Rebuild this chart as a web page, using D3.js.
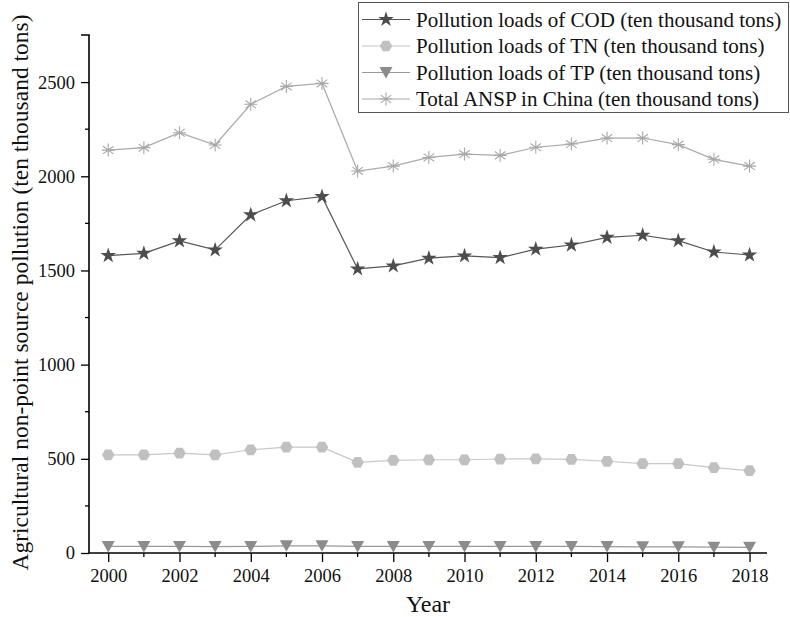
<!DOCTYPE html>
<html>
<head>
<meta charset="utf-8">
<script src="https://cdn.jsdelivr.net/npm/d3@7"></script>
<style>
  html, body { margin: 0; padding: 0; background: #fff; }
  svg { display: block; font-family: "Liberation Serif", "Times New Roman", serif; }
</style>
</head>
<body>
<svg id="chart" width="790" height="617"></svg>
<script>
const years = [2000,2001,2002,2003,2004,2005,2006,2007,2008,2009,2010,2011,2012,2013,2014,2015,2016,2017,2018];
const codValues = [1579,1591,1657,1609,1795,1870,1892,1508,1524,1565,1577,1568,1613,1635,1676,1687,1658,1598,1582];
const tnValues  = [521,521,530,521,548,562,562,481,492,495,495,499,500,497,487,474,474,453,437];
const tpValues  = [35,35,35,34,35,38,38,35,35,35,35,35,35,35,34,33,33,31,30];
const ansdValues = [2139,2152,2231,2166,2382,2477,2493,2028,2054,2100,2118,2111,2154,2171,2203,2203,2168,2090,2054];
const seriesNames = [
  "Pollution loads of COD (ten thousand tons)",
  "Pollution loads of TN (ten thousand tons)",
  "Pollution loads of TP (ten thousand tons)",
  "Total ANSP in China (ten thousand tons)"
];
const yMajorTicks = [0,500,1000,1500,2000,2500];
const xMajorTicks = [2000,2002,2004,2006,2008,2010,2012,2014,2016,2018];

(function () {
const svg = d3.select("#chart");
const mLeft = 89, mRight = 767, mTop = 35, mBottom = 553;
const x = d3.scaleLinear().domain([1999.46, 2018.49]).range([mLeft, mRight]);
const y = d3.scaleLinear().domain([0, 2750]).range([mBottom, mTop]);

const series = [
  {name: seriesNames[0], values: codValues, line: "#555", fill: "#4d4d4d", marker: "star"},
  {name: seriesNames[1], values: tnValues, line: "#c8c8c8", fill: "#c0c0c0", marker: "hex"},
  {name: seriesNames[2], values: tpValues, line: "#999", fill: "#8c8c8c", marker: "tri"},
  {name: seriesNames[3], values: ansdValues, line: "#aaa", fill: "#a8a8a8", marker: "ast"}
];

function drawMarker(g, type, color) {
  if (type === "star") {
    g.append("path").attr("d", d3.symbol().type(d3.symbolStar).size(75)())
      .attr("fill", color);
  } else if (type === "hex") {
    const r = 6.2;
    const pts = d3.range(6).map(i => {
      const a = i * Math.PI / 3;
      return [r * Math.cos(a), r * Math.sin(a)];
    });
    g.append("path").attr("d", "M" + pts.map(p => p.join(",")).join("L") + "Z").attr("fill", color);
  } else if (type === "tri") {
    g.append("path").attr("d", "M-6.5,-5.5L6.5,-5.5L0,6Z").attr("fill", color);
  } else if (type === "ast") {
    const r = 6.5;
    const c = Math.cos(Math.PI/5), s = Math.sin(Math.PI/5);
    g.append("path")
      .attr("d", `M0,${-r}L0,${r}` +
        `M${-r*c},${-r*s}L${r*c},${r*s}` +
        `M${-r*c},${r*s}L${r*c},${-r*s}` +
        `M${-r},0L${r},0`)
      .attr("stroke", color).attr("stroke-width", 1.1).attr("fill", "none");
  }
}

const lineGen = d3.line().x((d, i) => x(years[i])).y(d => y(d));
series.forEach(s => {
  svg.append("path").attr("d", lineGen(s.values))
    .attr("fill", "none").attr("stroke", s.line).attr("stroke-width", 1.2);
  s.values.forEach((v, i) => {
    const g = svg.append("g").attr("transform", `translate(${x(years[i])},${y(v)})`);
    drawMarker(g, s.marker, s.fill);
  });
});

// Y axis
const yAxis = d3.axisLeft(y).tickValues(yMajorTicks).tickSize(8).tickPadding(6).tickFormat(d3.format("d"));
const yg = svg.append("g").attr("transform", `translate(${mLeft},0)`).call(yAxis);
yg.select(".domain").attr("stroke-width", 1.6).attr("d", `M0,${mBottom}V${mTop}H-8`);
const yMinor = d3.range(250, 2750, 500);
yg.selectAll(".minor").data(yMinor).enter().append("line").attr("class", "minor")
  .attr("x1", 0).attr("x2", -4).attr("y1", d => y(d)).attr("y2", d => y(d))
  .attr("stroke", "#000").attr("stroke-width", 1.3);
yg.selectAll(".tick line").attr("stroke-width", 1.3);
yg.selectAll("text").attr("font-size", 18.5).attr("font-family", "Liberation Serif").attr("fill", "#111");

// X axis
const xAxis = d3.axisBottom(x).tickValues(xMajorTicks).tickSize(9).tickPadding(7).tickFormat(d3.format("d"));
const xg = svg.append("g").attr("transform", `translate(0,${mBottom})`).call(xAxis);
xg.select(".domain").attr("stroke-width", 1.6).attr("d", `M${mLeft},0H${mRight}`);
xg.selectAll(".minor").data(years.filter(d => d % 2 === 1)).enter().append("line").attr("class", "minor")
  .attr("y1", 0).attr("y2", 4).attr("x1", d => x(d)).attr("x2", d => x(d))
  .attr("stroke", "#000").attr("stroke-width", 1.3);
xg.selectAll(".tick line").attr("stroke-width", 1.3);
xg.selectAll("text").attr("font-size", 18.5).attr("font-family", "Liberation Serif").attr("fill", "#111");

// Axis titles
svg.append("text").attr("x", 428).attr("y", 612).attr("text-anchor", "middle")
  .attr("font-size", 24).attr("fill", "#111").text("Year");
svg.append("text").attr("transform", `translate(28,${(10+575)/2}) rotate(-90)`)
  .attr("text-anchor", "middle").attr("font-size", 23.5).attr("fill", "#111")
  .text("Agricultural non-point source pollution (ten thousand tons)");

// Legend
const lg = svg.append("g");
lg.append("rect").attr("x", 358.5).attr("y", 2.5).attr("width", 430).attr("height", 110)
  .attr("fill", "#fff").attr("stroke", "#555").attr("stroke-width", 1);
series.forEach((s, i) => {
  const cy = 19.5 + i * 26.5;
  lg.append("line").attr("x1", 362).attr("x2", 410).attr("y1", cy).attr("y2", cy)
    .attr("stroke", s.line).attr("stroke-width", 1.2);
  drawMarker(lg.append("g").attr("transform", `translate(386,${cy})`), s.marker, s.fill);
  lg.append("text").attr("x", 416).attr("y", cy + 7).attr("font-size", 21).attr("fill", "#111").text(s.name);
});
})();
</script>
</body>
</html>
